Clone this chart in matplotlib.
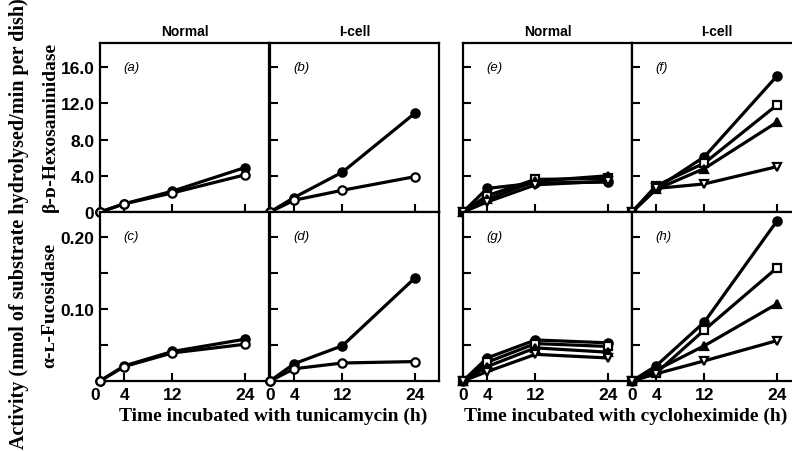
import matplotlib
matplotlib.use('Agg')
import matplotlib.pyplot as plt

plt.rcParams['font.family'] = ['Liberation Sans', 'DejaVu Sans']

times = [0, 4, 12, 24]

# tunicamycin: filled = control, open = + tunicamycin
hex_normal_tm = {'ctrl': [0, 0.9, 2.3, 4.9], 'drug': [0, 0.9, 2.1, 4.1]}
hex_icell_tm = {'ctrl': [0, 1.6, 4.4, 10.9], 'drug': [0, 1.3, 2.4, 3.9]}
fuc_normal_tm = {'ctrl': [0, 0.021, 0.041, 0.058], 'drug': [0, 0.020, 0.039, 0.051]}
fuc_icell_tm = {'ctrl': [0, 0.024, 0.049, 0.143], 'drug': [0, 0.017, 0.025, 0.027]}

# cycloheximide: four series
hex_normal_cx = {'circle': [0, 2.6, 3.2, 3.3], 'square': [0, 1.8, 3.6, 3.7],
                 'tri': [0, 1.4, 3.4, 4.0], 'inv': [0, 1.1, 3.0, 3.4]}
hex_icell_cx = {'circle': [0, 2.6, 6.1, 15.0], 'square': [0, 2.9, 5.4, 11.8],
                'tri': [0, 2.5, 4.8, 9.9], 'inv': [0, 2.6, 3.1, 5.0]}
fuc_normal_cx = {'circle': [0, 0.032, 0.057, 0.053], 'square': [0, 0.026, 0.052, 0.048],
                 'tri': [0, 0.020, 0.046, 0.040], 'inv': [0, 0.013, 0.037, 0.032]}
fuc_icell_cx = {'circle': [0, 0.021, 0.082, 0.222], 'square': [0, 0.011, 0.071, 0.157],
                'tri': [0, 0.015, 0.049, 0.107], 'inv': [0, 0.010, 0.028, 0.056]}

hex_ticks = [0, 4, 8, 12, 16]
hex_labels = ['0', '4.0', '8.0', '12.0', '16.0']
fuc_ticks = [0, 0.05, 0.10, 0.15, 0.20]
fuc_labels = ['', '', '0.10', '', '0.20']
x_labels = ['0', '4', '12', '24']

styles = {
    'ctrl': dict(marker='o', mfc='black'),
    'drug': dict(marker='o', mfc='white'),
    'circle': dict(marker='o', mfc='black'),
    'square': dict(marker='s', mfc='white'),
    'tri': dict(marker='^', mfc='black'),
    'inv': dict(marker='v', mfc='white'),
}

W, H = 792, 452
fig = plt.figure(figsize=(W / 100, H / 100), dpi=100)

def make_ax(x0, y0, w=169, h=169):
    return fig.add_axes([x0 / W, 1 - (y0 + h) / H, w / W, h / H])

panels = [
    # x0, y0, data, letter, top row?, first column?
    (100, 44, hex_normal_tm, 'a', True, True),
    (270, 44, hex_icell_tm, 'b', True, False),
    (100, 213, fuc_normal_tm, 'c', False, True),
    (270, 213, fuc_icell_tm, 'd', False, False),
    (463, 44, hex_normal_cx, 'e', True, False),
    (632, 44, hex_icell_cx, 'f', True, False),
    (463, 213, fuc_normal_cx, 'g', False, False),
    (632, 213, fuc_icell_cx, 'h', False, False),
]

axes = {}
for x0, y0, data, letter, top, first in panels:
    ax = make_ax(x0, y0)
    axes[letter] = ax
    for key, vals in data.items():
        st = styles[key]
        ax.plot(times, vals, color='black', lw=2.3, marker=st['marker'], ms=6,
                mfc=st['mfc'], mec='black', mew=1.6, clip_on=False, zorder=3)
    ax.set_xlim(0, 28)
    ax.set_xticks(times)
    if top:
        ax.set_ylim(0, 18.65)
        ax.set_yticks(hex_ticks)
        ax.set_yticklabels(hex_labels if first else [])
        ax.set_xticklabels([])
    else:
        ax.set_ylim(0, 0.2347)
        ax.set_yticks(fuc_ticks)
        ax.set_yticklabels(fuc_labels if first else [])
        ax.set_xticklabels(x_labels)
        if first:
            ax.get_xticklabels()[0].set_horizontalalignment('right')
    ax.tick_params(direction='in', length=6, width=1.5, labelsize=12.5, pad=4)
    for lab in ax.get_xticklabels() + ax.get_yticklabels():
        lab.set_fontweight('bold')
    for sp in ax.spines.values():
        sp.set_linewidth(1.6)
    ax.text(0.14, 0.86, '(' + letter + ')', transform=ax.transAxes,
            fontsize=9.5, style='italic', ha='left', va='center')

for letter, title in [('a', 'Normal'), ('b', 'I-cell'), ('e', 'Normal'), ('f', 'I-cell')]:
    axes[letter].set_title(title, fontsize=10, fontweight='bold', pad=6)

serif = ['Liberation Serif', 'DejaVu Serif']
fig.text(50 / W, 1 - 127 / H, 'β-ᴅ-Hexosaminidase', rotation=90, ha='center', va='center',
         fontsize=14, fontweight='bold', family=serif)
fig.text(50 / W, 1 - 305 / H, 'α-ʟ-Fucosidase', rotation=90, ha='center', va='center',
         fontsize=14, fontweight='bold', family=serif)
fig.text(19 / W, 1 - 224 / H, 'Activity (nmol of substrate hydrolysed/min per dish)',
         rotation=90, ha='center', va='center', fontsize=14.5, fontweight='bold', family=serif)
fig.text(273 / W, 1 - 416 / H, 'Time incubated with tunicamycin (h)', ha='center', va='center',
         fontsize=14, fontweight='bold', family=serif)
fig.text(626 / W, 1 - 416 / H, 'Time incubated with cycloheximide (h)', ha='center', va='center',
         fontsize=14, fontweight='bold', family=serif)

fig.savefig('out.png', dpi=100)
